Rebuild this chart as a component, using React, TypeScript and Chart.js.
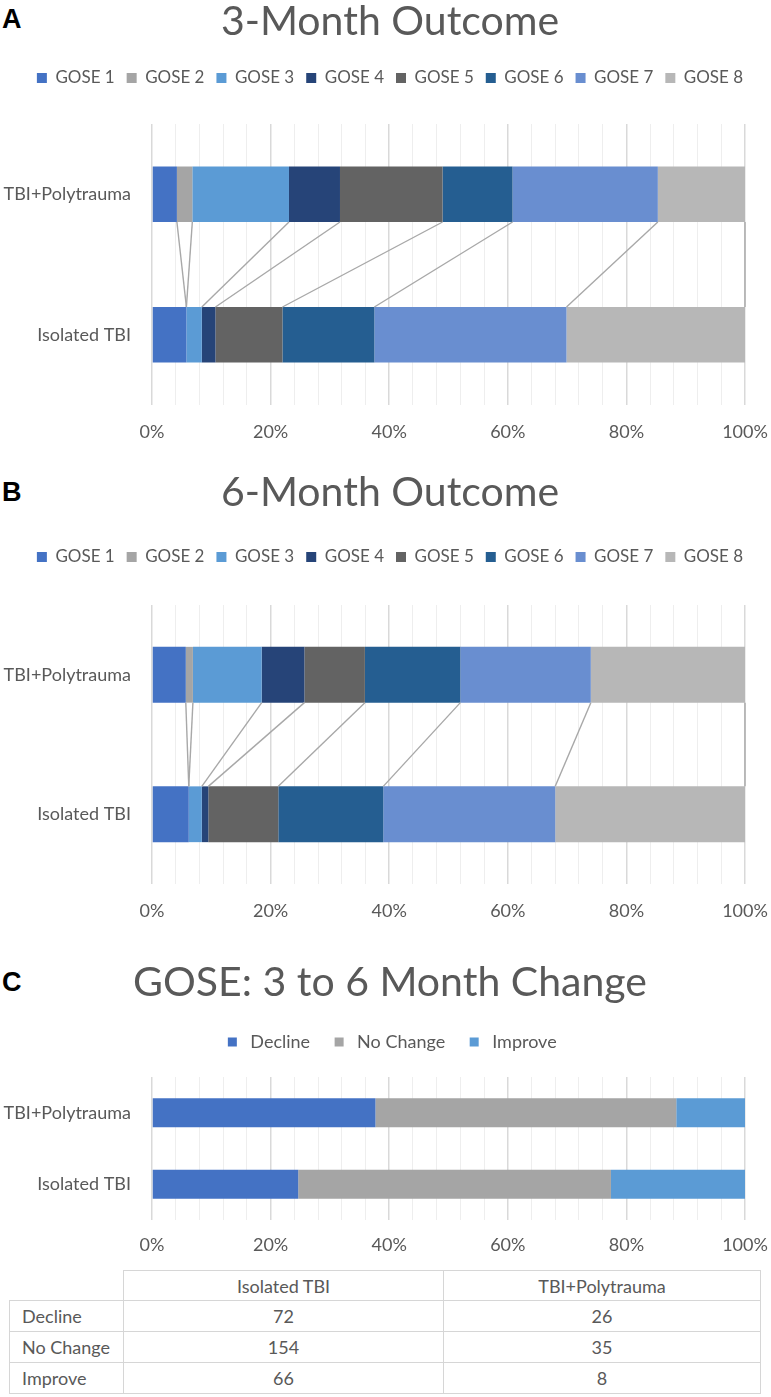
import React, { useEffect, useRef } from "react";
import { Chart, registerables } from "chart.js";

Chart.register(...registerables);

// ---------- data ----------
const groups = ["TBI+Polytrauma", "Isolated TBI"];
const goseLabels = ["GOSE 1", "GOSE 2", "GOSE 3", "GOSE 4", "GOSE 5", "GOSE 6", "GOSE 7", "GOSE 8"];
const goseColors = ["#4472C4", "#A5A5A5", "#5B9BD5", "#264478", "#636363", "#255E91", "#698ED0", "#B7B7B7"];

// percent of patients per GOSE level
const month3Poly = [4.2, 2.6, 16.3, 8.6, 17.3, 11.8, 24.5, 14.7];
const month3Iso = [5.8, 0, 2.6, 2.3, 11.3, 15.5, 32.4, 30.1];
const month6Poly = [5.7, 1.2, 11.6, 7.2, 10.2, 16.1, 22.0, 26.0];
const month6Iso = [6.2, 0, 2.2, 1.1, 11.8, 17.7, 29.0, 32.0];

const changeLabels = ["Decline", "No Change", "Improve"];
const changeColors = ["#4472C4", "#A5A5A5", "#5B9BD5"];
const changeIso = [72, 154, 66];
const changePoly = [26, 35, 8];

const xTickValues = [0, 20, 40, 60, 80, 100];
const xTickLabels = ["0%", "20%", "40%", "60%", "80%", "100%"];

// ---------- style ----------
const FONT = "Lato, 'Open Sans', sans-serif";
const TEXT = "#595959";
const W = 771;

type Layout = {
  top: number;
  height: number;
  titleCenter: number;
  legendCenter: number;
  legendSize: number;
  legendPad: number;
  plotTop: number;
  plotBottom: number;
  labelCenter: number;
  barFrac: number;
};

const TITLE_SIZE = 41;
const TICK_SIZE = 18;
const PAD_RIGHT = -9; // title / legend box spans 0..780 -> centred at 390
const PLOT_LEFT = 152;
const PLOT_RIGHT = 745;

const seriesLines = {
  id: "seriesLines",
  afterDatasetsDraw(chart: any) {
    const ctx = chart.ctx;
    ctx.save();
    ctx.strokeStyle = "#a8a8a8";
    ctx.lineWidth = 1.4;
    chart.data.datasets.forEach((_: any, i: number) => {
      const meta = chart.getDatasetMeta(i);
      const a: any = meta.data[0];
      const b: any = meta.data[1];
      if (!a || !b) return;
      ctx.beginPath();
      ctx.moveTo(a.x, a.y + a.height / 2);
      ctx.lineTo(b.x, b.y - b.height / 2);
      ctx.stroke();
    });
    ctx.restore();
  },
};

function buildConfig(
  title: string,
  L: Layout,
  datasets: any[],
  pointLegend: boolean,
  withSeriesLines: boolean
): any {
  const titlePadTop = L.titleCenter - TITLE_SIZE / 2;
  const legendTop = L.legendCenter - L.legendPad - L.legendSize / 2;
  const titlePadBottom = legendTop - titlePadTop - TITLE_SIZE;
  const legendBottom = legendTop + L.legendSize + L.legendPad + 10;
  const spacer = L.plotTop - legendBottom - 1;
  const axisH = L.height - L.plotBottom;
  // label centre = axis top + lineHeight / 2 (tick padding 0)
  const tickLineHeight = (2 * (L.labelCenter - L.plotBottom)) / TICK_SIZE;

  const legendLabels: any = {
    color: TEXT,
    font: { family: FONT, size: L.legendSize },
    padding: L.legendPad,
  };
  if (pointLegend) {
    legendLabels.usePointStyle = true;
    legendLabels.pointStyle = "rect";
    legendLabels.boxWidth = 18;
    legendLabels.boxHeight = 9;
  } else {
    legendLabels.boxWidth = 10;
    legendLabels.boxHeight = 10;
  }

  return {
    type: "bar",
    data: { labels: groups, datasets },
    plugins: withSeriesLines ? [seriesLines] : [],
    options: {
      indexAxis: "y",
      responsive: false,
      maintainAspectRatio: false,
      animation: false,
      layout: { padding: { left: 0, right: PAD_RIGHT, top: 0, bottom: 0 } },
      plugins: {
        title: {
          display: true,
          text: title,
          color: TEXT,
          font: { family: FONT, size: TITLE_SIZE, weight: "normal", lineHeight: 1 },
          padding: { top: titlePadTop, bottom: titlePadBottom },
        },
        legend: { display: true, position: "top", labels: legendLabels },
        subtitle: {
          display: true,
          text: "",
          weight: 500,
          font: { size: 1, lineHeight: 1 },
          padding: { top: 0, bottom: spacer },
        },
        tooltip: { enabled: false },
      },
      scales: {
        x: {
          stacked: true,
          min: 0,
          max: 100,
          ticks: {
            stepSize: 4,
            autoSkip: false,
            maxRotation: 0,
            padding: 0,
            color: TEXT,
            font: { family: FONT, size: TICK_SIZE, lineHeight: tickLineHeight },
            callback: (v: any) => {
              const idx = xTickValues.indexOf(Number(v));
              return idx >= 0 ? xTickLabels[idx] : "";
            },
          },
          grid: {
            drawTicks: false,
            color: (c: any) => (c.tick && c.tick.value % 20 === 0 ? "#d9d9d9" : "#eeeeee"),
            lineWidth: (c: any) => (c.tick && c.tick.value % 20 === 0 ? 1.5 : 1),
          },
          border: { display: false },
          afterFit: (s: any) => {
            s.height = axisH;
          },
        },
        y: {
          stacked: true,
          grid: { display: false, drawTicks: false },
          border: { display: false },
          ticks: {
            padding: 21,
            color: TEXT,
            font: { family: FONT, size: TICK_SIZE },
          },
          afterFit: (s: any) => {
            s.width = PLOT_LEFT;
          },
        },
        yRight: {
          type: "category",
          position: "right",
          display: true,
          grid: { display: false, drawTicks: false },
          border: { display: false },
          ticks: { display: false },
          afterFit: (s: any) => {
            s.width = W - PAD_RIGHT - PLOT_RIGHT;
          },
        },
      },
    },
  };
}

function goseDatasets(poly: number[], iso: number[], frac: number) {
  return goseLabels.map((label, i) => ({
    label,
    data: [poly[i], iso[i]],
    backgroundColor: goseColors[i],
    borderColor: goseColors[i],
    borderWidth: 0,
    barPercentage: frac,
    categoryPercentage: 1,
  }));
}

function toPct(arr: number[]) {
  const total = arr.reduce((a, b) => a + b, 0);
  return arr.map((v) => (v / total) * 100);
}

function changeDatasets(frac: number) {
  const p = toPct(changePoly);
  const s = toPct(changeIso);
  return changeLabels.map((label, i) => ({
    label,
    data: [p[i], s[i]],
    backgroundColor: changeColors[i],
    borderColor: changeColors[i],
    borderWidth: 0,
    barPercentage: frac,
    categoryPercentage: 1,
  }));
}

const layoutA: Layout = {
  top: 0, height: 445, titleCenter: 22, legendCenter: 78, legendSize: 17, legendPad: 12,
  plotTop: 124, plotBottom: 405, labelCenter: 432, barFrac: 0.395,
};
const layoutB: Layout = {
  top: 470, height: 455, titleCenter: 23, legendCenter: 87, legendSize: 17, legendPad: 12,
  plotTop: 135, plotBottom: 414, labelCenter: 441, barFrac: 0.4,
};
const layoutC: Layout = {
  top: 960, height: 300, titleCenter: 23, legendCenter: 82, legendSize: 18, legendPad: 20,
  plotTop: 117, plotBottom: 260, labelCenter: 285, barFrac: 0.405,
};

function ChartPanel({ layout, make }: { layout: Layout; make: () => any }) {
  const ref = useRef<HTMLCanvasElement>(null);
  useEffect(() => {
    const chart = new Chart(ref.current as HTMLCanvasElement, make());
    return () => chart.destroy();
  }, []);
  return (
    <canvas
      ref={ref}
      width={W}
      height={layout.height}
      style={{ position: "absolute", left: 0, top: layout.top, width: W, height: layout.height }}
    />
  );
}

function Letter({ text, top }: { text: string; top: number }) {
  return (
    <div
      style={{
        position: "absolute",
        left: 2,
        top,
        fontFamily: "'Liberation Sans', Arial, sans-serif",
        fontWeight: "bold",
        fontSize: 27,
        lineHeight: "27px",
        color: "#000",
      }}
    >
      {text}
    </div>
  );
}

export default function App() {
  const cell: React.CSSProperties = {
    border: "1.5px solid #d6d6d6",
    textAlign: "center",
    padding: 0,
  };
  const rowLabel: React.CSSProperties = {
    border: "1.5px solid #d6d6d6",
    textAlign: "left",
    paddingLeft: 12,
  };
  return (
    <div style={{ position: "absolute", left: 0, top: 0, width: W, height: 1397, background: "#fff" }}>
      <Letter text="A" top={6} />
      <Letter text="B" top={479} />
      <Letter text="C" top={969} />
      <ChartPanel
        layout={layoutA}
        make={() => buildConfig("3-Month Outcome", layoutA, goseDatasets(month3Poly, month3Iso, layoutA.barFrac), false, true)}
      />
      <ChartPanel
        layout={layoutB}
        make={() => buildConfig("6-Month Outcome", layoutB, goseDatasets(month6Poly, month6Iso, layoutB.barFrac), false, true)}
      />
      <ChartPanel
        layout={layoutC}
        make={() => buildConfig("GOSE: 3 to 6 Month Change", layoutC, changeDatasets(layoutC.barFrac), true, false)}
      />
      <table
        style={{
          position: "absolute",
          top: 1270,
          left: 9,
          width: 751,
          borderCollapse: "collapse",
          tableLayout: "fixed",
          fontFamily: FONT,
          fontSize: 18,
          color: TEXT,
        }}
      >
        <colgroup>
          <col style={{ width: 114 }} />
          <col style={{ width: 320 }} />
          <col style={{ width: 317 }} />
        </colgroup>
        <tbody>
          <tr style={{ height: 30 }}>
            <td style={{ border: "none" }}></td>
            <td style={cell}>{groups[1]}</td>
            <td style={cell}>{groups[0]}</td>
          </tr>
          {changeLabels.map((lab, i) => (
            <tr key={lab} style={{ height: 31 }}>
              <td style={rowLabel}>{lab}</td>
              <td style={cell}>{changeIso[i]}</td>
              <td style={cell}>{changePoly[i]}</td>
            </tr>
          ))}
        </tbody>
      </table>
    </div>
  );
}
